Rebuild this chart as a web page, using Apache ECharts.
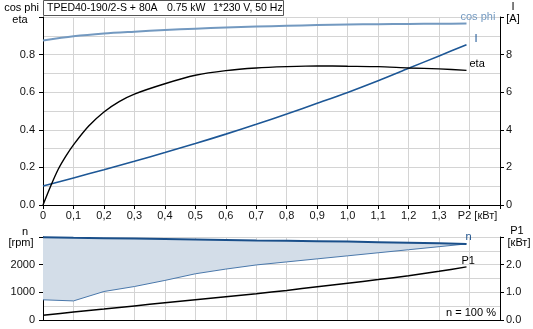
<!DOCTYPE html>
<html><head><meta charset="utf-8">
<script src="https://cdn.jsdelivr.net/npm/echarts@6/dist/echarts.min.js"></script>
<style>html,body{margin:0;padding:0;background:#fff}#c{width:533px;height:329px}</style>
</head><body><div id="c"></div>
<script>
// ---- data ----
const p2 = [0, 0.1, 0.2, 0.3, 0.4, 0.5, 0.6, 0.7, 0.8, 0.9, 1.0, 1.1, 1.2, 1.3, 1.39];
const cosPhi = [0.875, 0.897, 0.912, 0.922, 0.931, 0.938, 0.944, 0.949, 0.953, 0.957, 0.960, 0.962, 0.963, 0.964, 0.965];
const current = [1.01, 1.44, 1.88, 2.33, 2.79, 3.27, 3.77, 4.29, 4.84, 5.41, 5.99, 6.61, 7.27, 7.93, 8.53];
const etaP2 = [0, 0.025, 0.05, 0.075, 0.1, 0.15, 0.2, 0.25, 0.3, 0.4, 0.5, 0.6, 0.7, 0.8, 0.9, 1.0, 1.1, 1.2, 1.3, 1.39];
const eta = [0, 0.10, 0.19, 0.26, 0.32, 0.42, 0.495, 0.55, 0.59, 0.645, 0.69, 0.715, 0.729, 0.736, 0.740, 0.738, 0.736, 0.729, 0.724, 0.716];
const speedMax = [2990, 2970, 2958, 2945, 2928, 2910, 2892, 2873, 2860, 2848, 2836, 2813, 2790, 2770, 2750];
const speedMin = [730, 690, 1030, 1210, 1430, 1670, 1840, 1990, 2100, 2210, 2320, 2430, 2540, 2650, 2750];
const power1 = [0.17, 0.29, 0.40, 0.51, 0.62, 0.73, 0.84, 0.95, 1.07, 1.20, 1.33, 1.46, 1.60, 1.76, 1.92];
const titleParts = ['TPED40-190/2-S + 80A', '0.75 kW', '1*230 V, 50 Hz'];

const pairs = (xs, ys) => xs.map((x, i) => [x, ys[i]]);

const FONT = 'Liberation Sans, Arial, sans-serif';
const gridLine = { show: true, lineStyle: { color: '#d4d4d4', width: 1 } };
const axisLine = { show: true, lineStyle: { color: '#000', width: 1 } };
const lbl = { fontFamily: FONT, fontSize: 11, color: '#111' };

const chart = echarts.init(document.getElementById('c'), null, { renderer: 'canvas' });
chart.setOption({
  animation: false,
  backgroundColor: '#fff',
  grid: [
    { left: 43, right: 33, top: 17, bottom: 124, containLabel: false },
    { left: 43, right: 33, top: 237, bottom: 9, containLabel: false }
  ],
  xAxis: [
    { type: 'value', gridIndex: 0, min: 0, max: 1.5, interval: 0.1,
      axisLine: axisLine, axisTick: { show: true, length: 4, lineStyle: { color: '#000' } },
      splitLine: gridLine,
      axisLabel: Object.assign({}, lbl, { margin: 5,
        formatter: v => { const r = Math.round(v * 10);
          if (r === 0) return '0';
          if (r === 14) return '{p|P2 [кВт]}';
          if (r === 15) return '';
          return (r / 10).toFixed(1).replace('.', ','); },
        rich: { p: { fontFamily: FONT, fontSize: 11, color: '#111', padding: [0, 0, 0, 16] } } }) },
    { type: 'value', gridIndex: 1, min: 0, max: 1.5, interval: 0.1,
      axisLine: axisLine, axisTick: { show: false }, axisLabel: { show: false },
      splitLine: gridLine }
  ],
  yAxis: [
    { type: 'value', gridIndex: 0, min: 0, max: 1.0, interval: 0.2,
      axisLine: axisLine, axisTick: { show: true, length: 4, lineStyle: { color: '#000' } },
      splitLine: gridLine,
      minorTick: { show: false, splitNumber: 2 },
      minorSplitLine: { show: true, lineStyle: { color: '#d4d4d4', width: 1 } },
      axisLabel: Object.assign({}, lbl, { margin: 8,
        formatter: v => v > 0.9 ? '' : v.toFixed(1) }) },
    { type: 'value', gridIndex: 0, position: 'right', min: 0, max: 10, interval: 2,
      axisLine: axisLine, axisTick: { show: true, length: 4, lineStyle: { color: '#000' } },
      splitLine: { show: false },
      axisLabel: Object.assign({}, lbl, { margin: 6,
        formatter: v => v > 9 ? '' : String(v) }) },
    { type: 'value', gridIndex: 1, min: 0, max: 3000, interval: 1000,
      axisLine: axisLine, axisTick: { show: true, length: 4, lineStyle: { color: '#000' } },
      splitLine: gridLine,
      minorTick: { show: false, splitNumber: 2 },
      minorSplitLine: { show: true, lineStyle: { color: '#d4d4d4', width: 1 } },
      axisLabel: Object.assign({}, lbl, { margin: 8,
        formatter: v => v > 2500 ? '' : String(v) }) },
    { type: 'value', gridIndex: 1, position: 'right', min: 0, max: 3, interval: 1,
      axisLine: axisLine, axisTick: { show: true, length: 4, lineStyle: { color: '#000' } },
      splitLine: { show: false },
      axisLabel: Object.assign({}, lbl, { margin: 6,
        formatter: v => v > 2.5 ? '' : v.toFixed(1) }) }
  ],
  series: [
    { name: 'cos phi', type: 'line', xAxisIndex: 0, yAxisIndex: 0, data: pairs(p2, cosPhi),
      smooth: 0.3, symbol: 'none', lineStyle: { color: '#7399c0', width: 2 },
      endLabel: { show: true, formatter: 'cos phi', color: '#7399c0', fontFamily: FONT, fontSize: 11, offset: [-14, -7] } },
    { name: 'I', type: 'line', xAxisIndex: 0, yAxisIndex: 1, data: pairs(p2, current),
      smooth: 0.3, symbol: 'none', lineStyle: { color: '#1d5796', width: 1.6 },
      endLabel: { show: true, formatter: 'I', color: '#1d5796', fontFamily: FONT, fontSize: 11, offset: [0, -6] } },
    { name: 'eta', type: 'line', xAxisIndex: 0, yAxisIndex: 0, data: pairs(etaP2, eta),
      smooth: 0.25, symbol: 'none', lineStyle: { color: '#000', width: 1.4 },
      endLabel: { show: true, formatter: 'eta', color: '#000', fontFamily: FONT, fontSize: 11, offset: [-5, -6] } },
    { name: 'range', type: 'custom', xAxisIndex: 1, yAxisIndex: 2, z: 1,
      data: p2.map((x, i) => [x, speedMax[i], speedMin[i]]),
      encode: { x: 0, y: [1, 2] },
      renderItem: (params, api) => {
        if (params.dataIndex !== 0) return null;
        const pts = [];
        for (let i = 0; i < p2.length; i++) pts.push(api.coord([p2[i], speedMax[i]]));
        for (let i = p2.length - 1; i >= 0; i--) pts.push(api.coord([p2[i], speedMin[i]]));
        return { type: 'polygon', shape: { points: pts }, style: { fill: '#d3dde8' } };
      } },
    { name: 'nmin', type: 'line', xAxisIndex: 1, yAxisIndex: 2, data: pairs(p2, speedMin),
      symbol: 'none', lineStyle: { color: '#4a78ab', width: 1 } },
    { name: 'n', type: 'line', xAxisIndex: 1, yAxisIndex: 2, data: pairs(p2, speedMax),
      symbol: 'none', lineStyle: { color: '#1a4f8a', width: 2 },
      endLabel: { show: true, formatter: 'n', color: '#1a4f8a', fontFamily: FONT, fontSize: 11, offset: [-9, -7] } },
    { name: 'P1', type: 'line', xAxisIndex: 1, yAxisIndex: 3, data: pairs(p2, power1),
      smooth: 0.3, symbol: 'none', lineStyle: { color: '#000', width: 1.5 },
      endLabel: { show: true, formatter: 'P1', color: '#000', fontFamily: FONT, fontSize: 11, offset: [-13, -6] } }
  ],
  graphic: [
    { type: 'rect', shape: { x: 43.5, y: 0.5, width: 240, height: 15 }, style: { fill: '#fff', stroke: '#555', lineWidth: 1 }, z: 100 },
    { type: 'text', x: 47, y: 8, style: { text: titleParts[0], fontFamily: FONT, fontSize: 10.5, fill: '#000', verticalAlign: 'middle' }, z: 101 },
    { type: 'text', x: 167, y: 8, style: { text: titleParts[1], fontFamily: FONT, fontSize: 10.5, fill: '#000', verticalAlign: 'middle' }, z: 101 },
    { type: 'text', x: 213, y: 8, style: { text: titleParts[2], fontFamily: FONT, fontSize: 10.5, fill: '#000', verticalAlign: 'middle' }, z: 101 },
    { type: 'text', x: 39, y: 8, style: { text: 'cos phi', fontFamily: FONT, fontSize: 11, fill: '#000', align: 'right', verticalAlign: 'middle' } },
    { type: 'text', x: 20, y: 20, style: { text: 'eta', fontFamily: FONT, fontSize: 11, fill: '#000', align: 'center', verticalAlign: 'middle' } },
    { type: 'text', x: 513, y: 7, style: { text: 'I', fontFamily: FONT, fontSize: 11, fill: '#000', align: 'center', verticalAlign: 'middle' } },
    { type: 'text', x: 513, y: 19, style: { text: '[A]', fontFamily: FONT, fontSize: 11, fill: '#000', align: 'center', verticalAlign: 'middle' } },
    { type: 'text', x: 25, y: 232, style: { text: 'n', fontFamily: FONT, fontSize: 11, fill: '#000', align: 'center', verticalAlign: 'middle' } },
    { type: 'text', x: 21, y: 243, style: { text: '[rpm]', fontFamily: FONT, fontSize: 11, fill: '#000', align: 'center', verticalAlign: 'middle' } },
    { type: 'text', x: 517, y: 231, style: { text: 'P1', fontFamily: FONT, fontSize: 11, fill: '#000', align: 'center', verticalAlign: 'middle' } },
    { type: 'text', x: 519, y: 243, style: { text: '[кВт]', fontFamily: FONT, fontSize: 11, fill: '#000', align: 'center', verticalAlign: 'middle' } },
    { type: 'rect', shape: { x: 444, y: 307, width: 55, height: 12 }, style: { fill: '#fff' }, z: 100 },
    { type: 'text', x: 471, y: 313, style: { text: 'n = 100 %', fontFamily: FONT, fontSize: 11, fill: '#000', align: 'center', verticalAlign: 'middle' }, z: 101 }
  ]
});
</script>
</body></html>
